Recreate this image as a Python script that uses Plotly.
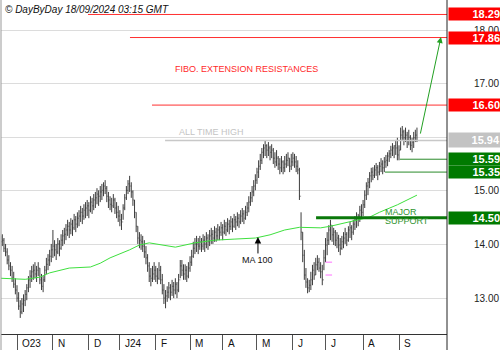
import plotly.graph_objects as go

# ---------------- data ----------------
highs = [14.16,14.19,14.12,14.01,13.93,13.80,13.67,13.60,13.49,13.37,
         13.24,13.11,12.96,13.00,13.07,13.15,13.26,13.41,13.52,13.60,
         13.63,13.67,13.60,13.67,13.56,13.45,13.41,13.60,13.75,13.82,
         13.90,14.01,14.27,14.08,14.01,14.12,14.08,14.19,14.27,14.31,
         14.38,14.46,14.42,14.49,14.46,14.57,14.53,14.60,14.64,14.72,
         14.68,14.75,14.79,14.83,14.79,14.90,14.87,14.94,14.98,15.05,
         15.01,15.09,15.13,15.16,15.20,15.09,14.98,14.90,14.87,14.94,
         14.87,14.79,14.72,14.64,14.57,14.75,14.94,15.09,15.20,15.28,
         15.16,15.01,14.83,14.60,14.34,14.23,14.19,14.16,14.08,13.97,
         13.82,13.67,13.56,13.60,13.67,13.60,13.56,13.67,13.60,13.45,
         13.26,13.15,13.22,13.30,13.26,13.34,13.30,13.37,13.30,13.45,
         13.71,13.71,13.63,13.63,13.60,13.67,13.78,13.90,14.05,14.12,
         14.16,14.12,14.16,14.12,14.19,14.16,14.23,14.19,14.27,14.31,
         14.27,14.34,14.31,14.38,14.34,14.42,14.38,14.46,14.42,14.49,
         14.46,14.53,14.49,14.57,14.53,14.60,14.57,14.64,14.68,14.64,
         14.72,14.79,14.90,14.98,15.09,15.20,15.31,15.43,15.57,15.69,
         15.80,15.87,15.93,15.87,15.91,15.84,15.87,15.80,15.72,15.76,
         15.65,15.61,15.65,15.57,15.65,15.69,15.72,15.61,15.69,15.72,
         15.69,15.65,15.57,15.43,14.60,14.23,13.90,13.56,13.37,13.34,
         13.49,13.62,13.67,13.75,13.80,13.75,13.67,13.62,13.90,14.12,
         14.23,14.36,14.46,14.36,14.31,14.27,14.23,14.18,14.12,14.16,
         14.23,14.31,14.23,14.34,14.42,14.36,14.46,14.53,14.60,14.57,
         14.72,14.75,14.83,15.01,15.16,15.24,15.35,15.43,15.44,15.48,
         15.52,15.48,15.54,15.61,15.57,15.63,15.67,15.72,15.76,15.84,
         15.89,15.85,15.95,15.99,15.85,16.18,16.21,16.14,16.18,16.10,
         16.14,16.04,15.99,16.10,16.14,16.18]
lows = [13.90,13.97,13.86,13.78,13.63,13.52,13.41,13.30,13.19,13.07,
        12.93,12.78,12.63,12.70,12.74,12.85,12.96,13.11,13.19,13.30,
        13.34,13.37,13.30,13.41,13.26,13.15,13.11,13.30,13.45,13.52,
        13.60,13.67,13.75,13.78,13.71,13.82,13.78,13.90,13.97,14.01,
        14.08,14.16,14.12,14.19,14.16,14.27,14.23,14.31,14.34,14.42,
        14.38,14.46,14.49,14.53,14.49,14.60,14.57,14.64,14.68,14.75,
        14.72,14.79,14.83,14.90,14.94,14.79,14.68,14.64,14.60,14.68,
        14.57,14.49,14.42,14.34,14.27,14.46,14.64,14.83,14.94,14.98,
        14.87,14.72,14.49,14.23,14.01,13.93,13.90,13.86,13.75,13.63,
        13.49,13.30,13.22,13.30,13.34,13.30,13.26,13.34,13.26,13.07,
        12.89,12.81,12.93,13.00,12.96,13.04,13.00,13.07,13.00,13.11,
        13.37,13.41,13.34,13.34,13.30,13.37,13.49,13.60,13.75,13.82,
        13.86,13.82,13.90,13.86,13.90,13.86,13.93,13.90,13.97,14.01,
        14.01,14.05,14.05,14.08,14.08,14.16,14.08,14.19,14.16,14.23,
        14.19,14.27,14.23,14.31,14.27,14.34,14.31,14.38,14.42,14.38,
        14.46,14.53,14.60,14.72,14.79,14.90,15.01,15.13,15.24,15.39,
        15.50,15.61,15.65,15.61,15.65,15.57,15.61,15.50,15.43,15.46,
        15.39,15.31,15.35,15.31,15.35,15.43,15.46,15.35,15.39,15.46,
        15.43,15.35,15.31,14.83,14.08,13.67,13.34,13.19,13.09,13.11,
        13.15,13.24,13.34,13.43,13.52,13.49,13.37,13.24,13.52,13.67,
        13.80,13.99,14.08,14.05,13.99,13.97,13.93,13.86,13.80,13.90,
        13.93,14.01,13.97,14.05,14.12,14.08,14.18,14.27,14.31,14.34,
        14.42,14.49,14.53,14.68,14.83,14.92,15.05,15.16,15.20,15.24,
        15.28,15.20,15.29,15.35,15.31,15.35,15.43,15.46,15.54,15.61,
        15.65,15.61,15.67,15.57,15.57,15.76,15.95,15.85,15.91,15.80,
        15.85,15.76,15.72,15.80,15.91,15.91]
closes = [14.05,14.08,13.93,13.86,13.71,13.60,13.52,13.37,13.26,13.15,
          13.00,12.85,12.74,12.89,12.96,13.07,13.19,13.34,13.41,13.49,
          13.52,13.45,13.52,13.56,13.34,13.22,13.34,13.52,13.63,13.71,
          13.78,13.90,13.97,13.90,13.86,14.01,13.93,14.08,14.16,14.19,
          14.27,14.34,14.27,14.38,14.31,14.46,14.38,14.49,14.53,14.60,
          14.53,14.64,14.68,14.72,14.64,14.79,14.72,14.83,14.87,14.94,
          14.90,14.98,15.01,15.09,15.05,14.90,14.83,14.75,14.72,14.83,
          14.68,14.60,14.53,14.46,14.42,14.68,14.87,15.01,15.13,15.09,
          14.98,14.83,14.60,14.34,14.12,14.08,14.05,13.97,13.86,13.75,
          13.60,13.41,13.37,13.45,13.52,13.41,13.37,13.52,13.34,13.15,
          13.00,13.04,13.11,13.19,13.11,13.22,13.15,13.26,13.15,13.34,
          13.60,13.52,13.45,13.52,13.41,13.56,13.67,13.78,13.93,14.01,
          14.01,13.97,14.05,13.97,14.08,14.01,14.12,14.05,14.16,14.19,
          14.12,14.23,14.16,14.27,14.23,14.31,14.23,14.34,14.27,14.38,
          14.34,14.42,14.34,14.46,14.42,14.49,14.42,14.53,14.57,14.49,
          14.60,14.68,14.79,14.87,14.98,15.09,15.20,15.35,15.46,15.57,
          15.72,15.80,15.84,15.76,15.80,15.72,15.76,15.61,15.54,15.61,
          15.50,15.43,15.54,15.43,15.50,15.57,15.61,15.46,15.54,15.61,
          15.54,15.46,15.39,14.90,14.23,13.80,13.43,13.30,13.19,13.24,
          13.34,13.52,13.43,13.62,13.67,13.56,13.49,13.34,13.75,13.99,
          14.08,14.27,14.36,14.18,14.23,14.08,14.12,13.99,13.93,14.05,
          14.12,14.19,14.08,14.27,14.31,14.23,14.38,14.46,14.49,14.53,
          14.64,14.60,14.74,14.92,15.09,15.16,15.28,15.35,15.29,15.39,
          15.43,15.35,15.46,15.50,15.43,15.54,15.57,15.65,15.69,15.76,
          15.80,15.84,15.80,15.67,15.76,16.04,16.10,15.99,16.04,15.95,
          16.00,15.85,15.91,15.99,16.04,15.94]

ma100_idx = [0, 15, 24, 30, 42, 55, 61, 67, 79, 85, 91, 98, 107, 119, 131,
             143, 156, 165, 174, 183, 189, 196, 202, 211, 220, 226, 232, 238, 243, 255]
ma100_val = [13.37, 13.35, 13.39, 13.47, 13.56, 13.58, 13.65, 13.75, 13.90, 13.99,
             14.03, 13.99, 13.95, 14.03, 14.08, 14.10, 14.12, 14.18, 14.27, 14.32,
             14.31, 14.31, 14.34, 14.40, 14.46, 14.51, 14.60, 14.68, 14.74, 14.92]

month_labels = ["O23", "N", "D", "J24", "F", "M", "A", "M", "J", "J", "A", "S"]
month_idx = [10, 32, 54, 73, 95, 116, 136, 157, 179, 199, 222, 244]

resist_levels = [18.29, 17.86, 16.60]
resist_start = [53.5, 79.2, 92.7]
ath_level = 15.94
ath_start = 100.7
support_levels = [15.59, 15.35]
support_start = [244.6, 235.4]
major_support = 14.50
major_start = 193.2
last_price = 15.94
gap_marks = [13.67, 13.43]
gap_span = [199, 203]
ma_note_point = [157.6, 14.14]
target_arrow = [256.9, 16.04, 269.7, 17.87]

# ---------------- figure ----------------
x = list(range(len(closes)))
opens = [closes[0]] + closes[:-1]

fig = go.Figure()
fig.add_trace(go.Ohlc(x=x, open=opens, high=highs, low=lows, close=closes,
                      increasing=dict(line=dict(color="#3c3c3c", width=1)),
                      decreasing=dict(line=dict(color="#3c3c3c", width=1)),
                      tickwidth=0.35, hoverinfo="skip"))
fig.add_trace(go.Scatter(x=ma100_idx, y=ma100_val, mode="lines",
                         line=dict(color="#3ee03e", width=1), hoverinfo="skip"))

XMAX = 273.4
shapes = []
red = "#ff3030"
for lv, st in zip(resist_levels, resist_start):
    shapes.append(dict(type="line", xref="x", yref="y", x0=st, x1=XMAX, y0=lv, y1=lv,
                       line=dict(color=red, width=1)))
shapes.append(dict(type="line", xref="x", yref="y", x0=ath_start, x1=XMAX, y0=ath_level, y1=ath_level,
                   line=dict(color="#c8c8c8", width=1.5)))
for lv, st in zip(support_levels, support_start):
    shapes.append(dict(type="line", xref="x", yref="y", x0=st, x1=XMAX, y0=lv, y1=lv,
                       line=dict(color="#2a8a2a", width=1)))
shapes.append(dict(type="line", xref="x", yref="y", x0=major_start, x1=XMAX, y0=major_support, y1=major_support,
                   line=dict(color="#0a780a", width=3)))
for g in gap_marks:
    shapes.append(dict(type="line", xref="x", yref="y", x0=gap_span[0], x1=gap_span[1], y0=g, y1=g,
                       line=dict(color="#ff70ff", width=1)))
# frame lines
shapes.append(dict(type="line", xref="paper", yref="paper", x0=1, x1=1, y0=-16/334, y1=1,
                   line=dict(color="#222222", width=1)))
shapes.append(dict(type="line", xref="paper", yref="paper", x0=0, x1=0, y0=-16/334, y1=1,
                   line=dict(color="#999999", width=1)))

FONT = "Liberation Sans, Arial, sans-serif"
ann = []
ann.append(dict(text="<i>© DayByDay 18/09/2024 03:15 GMT</i>", xref="paper", yref="paper",
                x=0.0045, y=1 - 9/334, xanchor="left", yanchor="middle", showarrow=False,
                font=dict(family=FONT, size=10, color="#111111")))
ann.append(dict(text="FIBO. EXTENSION RESISTANCES", xref="x", yref="y", x=150.3, y=17.27,
                xanchor="center", yanchor="middle", showarrow=False,
                font=dict(family=FONT, size=9, color="#ff2a2a")))
ann.append(dict(text="ALL TIME HIGH", xref="x", yref="y", x=108, y=16.10,
                xanchor="left", yanchor="middle", showarrow=False,
                font=dict(family=FONT, size=9, color="#c4c4c4")))
ann.append(dict(text="MAJOR", xref="x", yref="y", x=234.2, y=14.60,
                xanchor="left", yanchor="middle", showarrow=False,
                font=dict(family=FONT, size=9, color="#2e942e")))
ann.append(dict(text="SUPPORT", xref="x", yref="y", x=234.2, y=14.43,
                xanchor="left", yanchor="middle", showarrow=False,
                font=dict(family=FONT, size=9, color="#2e942e")))
ann.append(dict(text="MA 100", xref="x", yref="y", x=ma_note_point[0], y=ma_note_point[1],
                showarrow=True, ax=0, ay=23, arrowhead=2, arrowsize=1.3, arrowwidth=1,
                arrowcolor="#000000", standoff=0,
                font=dict(family=FONT, size=9, color="#111111")))
ann.append(dict(text="", xref="x", yref="y", x=target_arrow[2], y=target_arrow[3],
                axref="x", ayref="y", ax=target_arrow[0], ay=target_arrow[1],
                showarrow=True, arrowhead=2, arrowsize=1.2, arrowwidth=1, arrowcolor="#22a022"))

# right-side price labels
def price_label(val, bg, h=12):
    return dict(text="<b>%.2f</b>" % val, xref="paper", yref="y", x=447/446 - 0.0001, y=val,
                xanchor="left", yanchor="middle", showarrow=False, width=51, height=h,
                align="right", bgcolor=bg, borderpad=0,
                font=dict(family=FONT, size=11, color="white"))

for lv in resist_levels:
    ann.append(price_label(lv, "#ff0000"))
ann.append(price_label(last_price, "#c3c3c3", 14))
for lv in support_levels:
    ann.append(price_label(lv, "#007a00"))
ann.append(price_label(major_support, "#007a00"))

for lab, mi in zip(month_labels, month_idx):
    ann.append(dict(text=lab, xref="x", yref="paper", x=mi, y=0, xanchor="left", yanchor="top",
                    xshift=3, yshift=-2, showarrow=False,
                    font=dict(family=FONT, size=10, color="#111111")))

fig.update_layout(
    width=500, height=350, margin=dict(l=1, r=53, t=0, b=16),
    paper_bgcolor="white", plot_bgcolor="white", showlegend=False,
    xaxis=dict(range=[0.2, XMAX], rangeslider=dict(visible=False), showgrid=False, zeroline=False,
               showline=True, linecolor="#333333", linewidth=1,
               tickmode="array", tickvals=month_idx, ticks="outside", ticklen=16,
               tickcolor="#555555", tickwidth=1, showticklabels=False),
    yaxis=dict(range=[12.33, 18.56], side="right", tickmode="array",
               tickvals=[13, 14, 15, 16, 17, 18], tickformat=".2f",
               showgrid=True, gridcolor="#dcdcdc", gridwidth=1, zeroline=False, ticks="",
               ticklabelstandoff=26, showline=False,
               tickfont=dict(family=FONT, size=10, color="#222222")),
    shapes=shapes, annotations=ann,
)

fig.write_html("out.html")
